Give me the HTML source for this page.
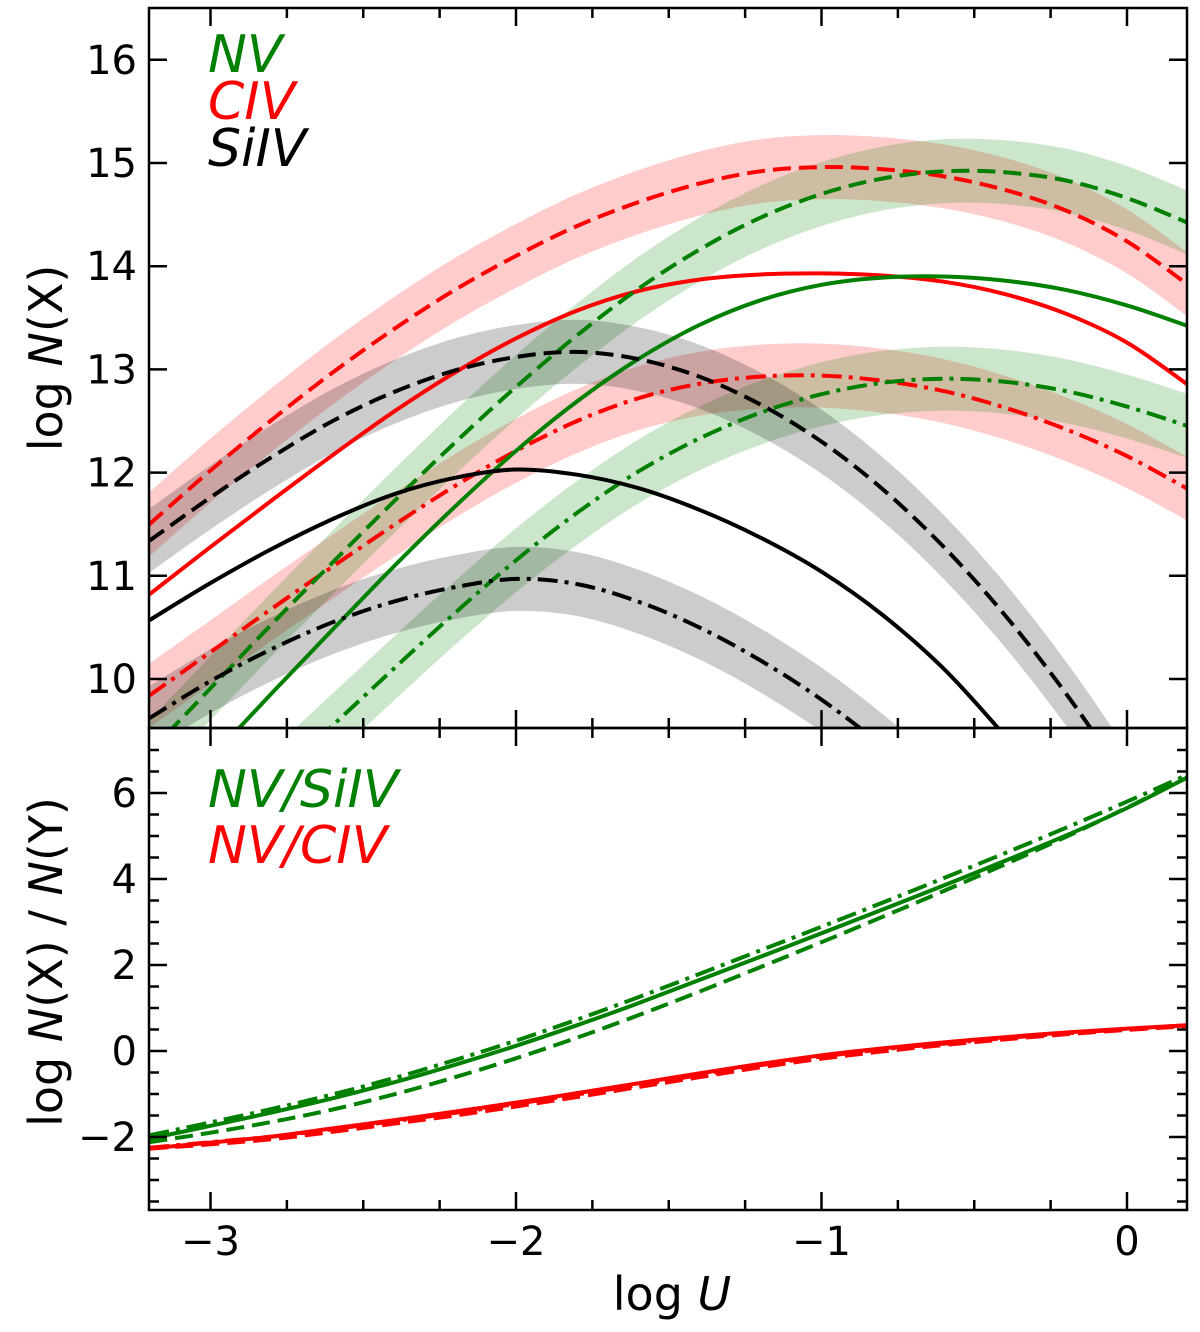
<!DOCTYPE html>
<html><head><meta charset="utf-8"><style>
html,body{margin:0;padding:0;background:#fff;}
svg text{font-family:"DejaVu Sans","Liberation Sans",sans-serif;}
</style></head><body>
<svg id="chart" width="1200" height="1327" viewBox="0 0 1200 1327" xmlns="http://www.w3.org/2000/svg">
<defs>
<clipPath id="clipTop"><rect x="149" y="8" width="1038" height="720"/></clipPath>
<clipPath id="clipBot"><rect x="149" y="728" width="1038" height="482"/></clipPath>
</defs>
<g id="bands" clip-path="url(#clipTop)"></g>
<g id="topLines" clip-path="url(#clipTop)"></g>
<g id="botLines" clip-path="url(#clipBot)"></g>
<g id="axes"></g>
<g font-style="italic" font-size="52">
<text x="208" y="72" fill="#008000">NV</text>
<text x="208" y="119" fill="#ff0000">CIV</text>
<text x="208" y="166" fill="#000">SiIV</text>
</g>
<g font-style="italic" font-size="52">
<text x="208" y="807" fill="#008000">NV/SiIV</text>
<text x="208" y="863" fill="#ff0000">NV/CIV</text>
</g>
<text x="672" y="1310" font-size="46" text-anchor="middle">log <tspan font-style="italic">U</tspan></text>
<text transform="translate(62,358) rotate(-90)" font-size="46" text-anchor="middle">log <tspan font-style="italic">N</tspan>(X)</text>
<text transform="translate(62,962) rotate(-90)" font-size="46" text-anchor="middle">log <tspan font-style="italic">N</tspan>(X) / <tspan font-style="italic">N</tspan>(Y)</text>
</svg>
<script>
const xGrid = [-3.2,-3.0,-2.8,-2.6,-2.4,-2.2,-2.0,-1.8,-1.6,-1.4,-1.2,-1.0,-0.8,-0.6,-0.4,-0.2,0.0,0.2];
const civDash = [11.50,12.02,12.51,12.97,13.39,13.77,14.10,14.39,14.62,14.80,14.92,14.96,14.94,14.87,14.74,14.54,14.24,13.82];
const civSolid = [10.82,11.28,11.73,12.17,12.59,12.97,13.30,13.57,13.76,13.87,13.92,13.93,13.91,13.85,13.73,13.54,13.26,12.85];
const civDD = [9.84,10.26,10.68,11.09,11.49,11.87,12.21,12.50,12.72,12.86,12.93,12.94,12.89,12.79,12.63,12.42,12.16,11.84];
const nvDash = [9.29,9.91,10.53,11.13,11.72,12.29,12.83,13.33,13.78,14.16,14.47,14.70,14.85,14.92,14.91,14.83,14.66,14.42];
const nvSolid = [8.60,9.23,9.86,10.48,11.09,11.67,12.21,12.69,13.10,13.43,13.67,13.82,13.89,13.90,13.86,13.77,13.62,13.42];
const nvDD = [7.90,8.45,9.00,9.55,10.10,10.64,11.15,11.61,12.01,12.33,12.58,12.76,12.87,12.91,12.88,12.79,12.64,12.45];
const siDash = [11.34,11.76,12.15,12.50,12.78,12.99,13.12,13.17,13.10,12.93,12.66,12.30,11.84,11.28,10.62,9.86,9.00,8.05];
const siSolid = [10.57,10.93,11.26,11.55,11.79,11.95,12.03,11.98,11.85,11.64,11.37,11.04,10.62,10.10,9.45,8.75,8.00,7.20];
const siDD = [9.62,9.98,10.29,10.55,10.75,10.89,10.97,10.92,10.75,10.50,10.18,9.80,9.35,8.83,8.25,7.60,6.90,6.20];
const bandHalfWidth = 0.31;
const nvSiSolid = [-2.04,-1.74,-1.43,-1.10,-0.73,-0.32,0.12,0.60,1.11,1.65,2.19,2.74,3.29,3.85,4.42,5.01,5.65,6.37];
const nvSiDD = [-1.96,-1.66,-1.35,-1.01,-0.63,-0.21,0.24,0.73,1.25,1.79,2.34,2.89,3.45,4.02,4.60,5.19,5.80,6.43];
const nvSiDash = [-2.12,-1.90,-1.65,-1.36,-1.01,-0.61,-0.17,0.31,0.83,1.38,1.95,2.53,3.12,3.72,4.34,4.98,5.66,6.37];
const nvCivSolid = [-2.27,-2.13,-1.99,-1.80,-1.61,-1.41,-1.20,-0.98,-0.75,-0.52,-0.30,-0.10,0.06,0.20,0.32,0.43,0.52,0.60];
const nvCivDash = [-2.27,-2.17,-2.05,-1.88,-1.69,-1.50,-1.29,-1.07,-0.84,-0.61,-0.38,-0.18,-0.01,0.14,0.27,0.39,0.49,0.58];
const nvCivDD = [-2.25,-2.12,-1.99,-1.82,-1.63,-1.44,-1.23,-1.01,-0.79,-0.56,-0.33,-0.13,0.04,0.17,0.30,0.41,0.51,0.60];
const xTicks = [-3,-2,-1,0];
const xTickLabels = ["\u22123","\u22122","\u22121","0"];
const topYTicks = [10,11,12,13,14,15,16];
const botYTicks = [-2,0,2,4,6];
const botYTickLabels = ["\u22122","0","2","4","6"];

const NS = "http://www.w3.org/2000/svg";
const X = v => 1127 + v * 305.5;
const YT = v => 679 - (v - 10) * 103.2;
const YB = v => 793 - (v - 6) * 43;
const L = 149, R = 1187, T = 8, M = 728, B = 1210;

function smoothPath(pts){
  let d = "M" + pts[0][0].toFixed(1) + "," + pts[0][1].toFixed(1);
  for (let i = 0; i < pts.length - 1; i++){
    const p0 = pts[Math.max(0,i-1)], p1 = pts[i], p2 = pts[i+1], p3 = pts[Math.min(pts.length-1,i+2)];
    const c1 = [p1[0] + (p2[0]-p0[0])/6, p1[1] + (p2[1]-p0[1])/6];
    const c2 = [p2[0] - (p3[0]-p1[0])/6, p2[1] - (p3[1]-p1[1])/6];
    d += " C" + c1[0].toFixed(1) + "," + c1[1].toFixed(1) + " " + c2[0].toFixed(1) + "," + c2[1].toFixed(1) + " " + p2[0].toFixed(1) + "," + p2[1].toFixed(1);
  }
  return d;
}
function mk(tag, attrs, parent){
  const el = document.createElementNS(NS, tag);
  for (const k in attrs) el.setAttribute(k, attrs[k]);
  parent.appendChild(el);
  return el;
}
const bands = document.getElementById("bands");
const topLines = document.getElementById("topLines");
const botLines = document.getElementById("botLines");
const axes = document.getElementById("axes");

function drawBand(vals, color, name){
  const up = xGrid.map((x,i) => [X(x), YT(vals[i] + bandHalfWidth)]);
  const lo = xGrid.map((x,i) => [X(x), YT(vals[i] - bandHalfWidth)]).reverse();
  let d = smoothPath(up) + " L" + lo[0][0] + "," + lo[0][1].toFixed(1) + smoothPath(lo).replace(/^M[^C]*/, " ") + " Z";
  const el = mk("path", {d: d, fill: color, "fill-opacity": 0.2, stroke: "none"}, bands);
  
  
}
function drawLine(vals, color, dash, Y, parent, name){
  const pts = xGrid.map((x,i) => [X(x), Y(vals[i])]);
  const el = mk("path", {d: smoothPath(pts), fill: "none", stroke: color, "stroke-width": 4, "stroke-dasharray": dash}, parent);
  
  
}
const DASH = "18 8", DD = "20 7 4 7", SOLID = "none";
drawBand(civDash, "#ff0000", "civ-dashed-band");
drawBand(civDD, "#ff0000", "civ-dashdot-band");
drawBand(nvDash, "#008000", "nv-dashed-band");
drawBand(nvDD, "#008000", "nv-dashdot-band");
drawBand(siDash, "#000000", "siiv-dashed-band");
drawBand(siDD, "#000000", "siiv-dashdot-band");
drawLine(civDash, "#ff0000", DASH, YT, topLines, "civ-dashed-line");
drawLine(civSolid, "#ff0000", SOLID, YT, topLines, "civ-solid-line");
drawLine(civDD, "#ff0000", DD, YT, topLines, "civ-dashdot-line");
drawLine(nvDash, "#008000", DASH, YT, topLines, "nv-dashed-line");
drawLine(nvSolid, "#008000", SOLID, YT, topLines, "nv-solid-line");
drawLine(nvDD, "#008000", DD, YT, topLines, "nv-dashdot-line");
drawLine(siDash, "#000000", DASH, YT, topLines, "siiv-dashed-line");
drawLine(siSolid, "#000000", SOLID, YT, topLines, "siiv-solid-line");
drawLine(siDD, "#000000", DD, YT, topLines, "siiv-dashdot-line");
drawLine(nvSiSolid, "#008000", SOLID, YB, botLines, "nv-siiv-solid-line");
drawLine(nvSiDD, "#008000", DD, YB, botLines, "nv-siiv-dashdot-line");
drawLine(nvSiDash, "#008000", DASH, YB, botLines, "nv-siiv-dashed-line");
drawLine(nvCivSolid, "#ff0000", SOLID, YB, botLines, "nv-civ-solid-line");
drawLine(nvCivDash, "#ff0000", DASH, YB, botLines, "nv-civ-dashed-line");
drawLine(nvCivDD, "#ff0000", DD, YB, botLines, "nv-civ-dashdot-line");

const f1 = mk("rect", {x: L, y: T, width: R-L, height: M-T, fill: "none", stroke: "#000", "stroke-width": 2.5}, axes);


const f2 = mk("rect", {x: L, y: M, width: R-L, height: B-M, fill: "none", stroke: "#000", "stroke-width": 2.5}, axes);



function tick(x1,y1,x2,y2){
  const t = mk("line", {x1:x1,y1:y1,x2:x2,y2:y2,stroke:"#000","stroke-width":2.5}, axes);
  
  
}
for (let v = -3.25; v <= 0.2001; v += 0.25){
  const major = Math.abs(v - Math.round(v)) < 1e-6;
  const len = major ? 18 : 10;
  const x = X(v);
  if (x < L || x > R) continue;
  tick(x, T, x, T+len); tick(x, M, x, M-len);
  tick(x, M, x, M+len); tick(x, B, x, B-len);
}
xTicks.forEach((v,i) => {
  const t = mk("text", {x: X(v), y: 1255, "font-size": 40, "text-anchor": "middle"}, axes);
  t.textContent = xTickLabels[i];
  
  
});
topYTicks.forEach(v => {
  const y = YT(v);
  tick(L, y, L+18, y); tick(R, y, R-18, y);
  const t = mk("text", {x: 137, y: y+14, "font-size": 40, "text-anchor": "end"}, axes);
  t.textContent = String(v);
  
  
});
for (let v = -3.5; v <= 7.5; v += 0.5){
  const y = YB(v);
  if (y < M + 2 || y > B - 2) continue;
  const major = Math.abs(v/2 - Math.round(v/2)) < 1e-6;
  const len = major ? 18 : 10;
  tick(L, y, L+len, y); tick(R, y, R-len, y);
}
botYTicks.forEach((v,i) => {
  const t = mk("text", {x: 137, y: YB(v)+14, "font-size": 40, "text-anchor": "end"}, axes);
  t.textContent = botYTickLabels[i];
  
  
});
</script>
</body></html>
